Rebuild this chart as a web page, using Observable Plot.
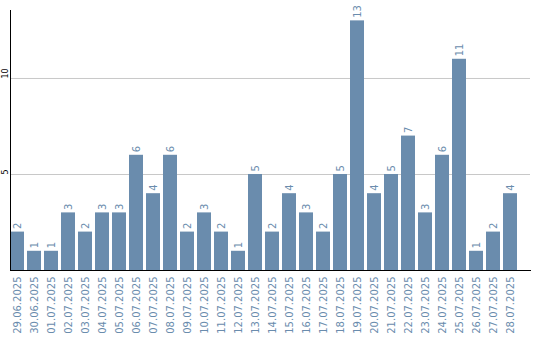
<!DOCTYPE html>
<html>
<head>
<meta charset="utf-8">
<script src="https://cdn.jsdelivr.net/npm/d3@7"></script>
<script src="https://cdn.jsdelivr.net/npm/@observablehq/plot@0.6"></script>
<style>
  html, body { margin: 0; padding: 0; background: #fff; }
  svg { display: block; }
</style>
</head>
<body>
<div id="chart"></div>
<script>
const dates = ["29.06.2025","30.06.2025","01.07.2025","02.07.2025","03.07.2025","04.07.2025","05.07.2025","06.07.2025","07.07.2025","08.07.2025","09.07.2025","10.07.2025","11.07.2025","12.07.2025","13.07.2025","14.07.2025","15.07.2025","16.07.2025","17.07.2025","18.07.2025","19.07.2025","20.07.2025","21.07.2025","22.07.2025","23.07.2025","24.07.2025","25.07.2025","26.07.2025","27.07.2025","28.07.2025"];
const counts = [2,1,1,3,2,3,3,6,4,6,2,3,2,1,5,2,4,3,2,5,13,4,5,7,3,6,11,1,2,4];
const yTicks = [5, 10];

const data = dates.map((d, i) => ({date: d, value: counts[i]}));
const barColor = "#6a8cad";

const chart = Plot.plot({
  width: 540,
  height: 340,
  marginLeft: 10,
  marginRight: 10,
  marginTop: 10,
  marginBottom: 70,
  style: {fontFamily: "DejaVu Sans", background: "#fff"},
  x: {domain: dates, range: [10, 517], paddingInner: 3/17, paddingOuter: 0, align: 0, label: null},
  y: {domain: [0, 13.54], label: null, axis: null},
  marks: [
    Plot.ruleY(yTicks, {stroke: "#c8c8c8", strokeWidth: 1}),
    Plot.barY(data, {x: "date", y: "value", fill: barColor}),
    Plot.text(data, {x: "date", y: "value", text: d => String(d.value), rotate: -90, textAnchor: "start", dy: -3, fill: barColor, fontSize: 10}),
    Plot.axisX({tickSize: 0, tickRotate: -90, tickPadding: 6, fontSize: 10, fill: barColor, label: null}),
    Plot.text(yTicks, {y: d => d, text: d => String(d), frameAnchor: "left", dx: -5, rotate: -90, fontSize: 8, fill: "#000"}),
    Plot.frame({anchor: "left", stroke: "#000"}),
    Plot.frame({anchor: "bottom", stroke: "#000"})
  ]
});
document.getElementById("chart").appendChild(chart);
</script>
</body>
</html>
